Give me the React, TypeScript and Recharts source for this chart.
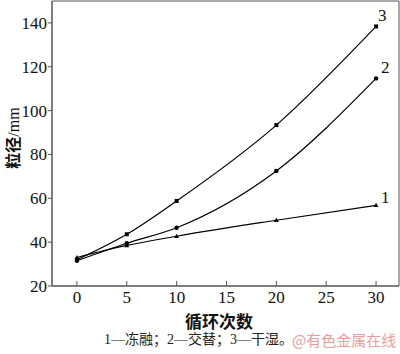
import { LineChart, Line, XAxis, YAxis, ReferenceArea, LabelList } from 'recharts';

// 循环次数
const cycles = [0, 5, 10, 20, 30];
// 1—冻融
const freezeThaw = [33, 38.5, 42.7, 50, 56.8];
// 2—交替
const alternate = [31.5, 39.5, 46.6, 72.5, 114.7];
// 3—干湿
const wetDry = [32, 43.6, 58.8, 93.4, 138.4];

const xTicks = [0, 5, 10, 15, 20, 25, 30];
const yTicks = [20, 40, 60, 80, 100, 120, 140];
const xDomain: [number, number] = [-2.5, 32.3];
const yDomain: [number, number] = [20, 150];

const data = cycles.map((c, i) => ({
  cycle: c,
  s1: freezeThaw[i],
  s2: alternate[i],
  s3: wetDry[i],
}));

const serif = '"Liberation Serif", "Times New Roman", serif';
const cjk = '"Noto Sans CJK SC", sans-serif';
const axisColor = '#555';

const XTick = (props: any) => {
  const { x, y, payload } = props;
  return (
    <g>
      <line x1={x} x2={x} y1={y} y2={y - 5} stroke={axisColor} />
      <text x={x} y={y + 17} textAnchor="middle" fill="#111" style={{ fontSize: 17, fontFamily: serif }}>
        {payload.value}
      </text>
    </g>
  );
};

const YTick = (props: any) => {
  const { x, y, payload } = props;
  return (
    <text x={x} y={y + 6} textAnchor="end" fill="#111" style={{ fontSize: 17, fontFamily: serif }}>
      {payload.value}
    </text>
  );
};

const makeDot = (kind: string) => (props: any) => {
  const { cx, cy, index } = props;
  if (kind === 'square') {
    return <rect key={index} x={cx - 2} y={cy - 2} width={4} height={4} fill="#000" />;
  }
  if (kind === 'circle') {
    return <circle key={index} cx={cx} cy={cy} r={2.2} fill="#000" />;
  }
  return (
    <path key={index} d={`M${cx},${cy - 2.6}L${cx + 2.4},${cy + 1.8}L${cx - 2.4},${cy + 1.8}Z`} fill="#000" />
  );
};

const endLabel = (text: string, dx: number, dy: number) => (props: any) => {
  const { x, y, index } = props;
  if (index !== cycles.length - 1) return null;
  return (
    <text x={x + dx} y={y + dy} fill="#111" style={{ fontSize: 17, fontFamily: serif }}>
      {text}
    </text>
  );
};

export default function App() {
  return (
    <div style={{ position: 'absolute', left: 0, top: 0, width: 400, height: 354, background: '#fff', fontFamily: serif }}>
      <LineChart width={400} height={354} data={data} margin={{ top: 1, right: 1, left: 0, bottom: 0 }}>
        <XAxis
          dataKey="cycle"
          type="number"
          domain={xDomain}
          ticks={xTicks}
          allowDataOverflow
          height={68}
          tickSize={0}
          tickMargin={0}
          tickLine={false}
          stroke={axisColor}
          tick={<XTick />}
          label={() => (
            <text x={219} y={328} textAnchor="middle" fill="#111" style={{ fontSize: 17, fontWeight: 'bold', fontFamily: cjk }}>
              循环次数
            </text>
          )}
        />
        <YAxis
          type="number"
          domain={yDomain}
          ticks={yTicks}
          allowDataOverflow
          width={52}
          tickSize={4}
          tickMargin={1}
          stroke={axisColor}
          tick={<YTick />}
          label={() => (
            <text transform="translate(19,138) rotate(-90)" textAnchor="middle" fill="#111" style={{ fontSize: 16 }}>
              <tspan style={{ fontFamily: cjk, fontWeight: 'bold' }}>粒径</tspan>
              <tspan style={{ fontFamily: serif }}>/mm</tspan>
            </text>
          )}
        />
        <ReferenceArea x1={xDomain[0]} x2={xDomain[1]} y1={yDomain[0]} y2={yDomain[1]} fill="none" stroke={axisColor} />
        <Line type="monotone" dataKey="s1" stroke="#000" strokeWidth={1.2} dot={makeDot('triangle')} isAnimationActive={false}>
          <LabelList dataKey="s1" content={endLabel('1', 5, -2)} />
        </Line>
        <Line type="monotone" dataKey="s2" stroke="#000" strokeWidth={1.2} dot={makeDot('circle')} isAnimationActive={false}>
          <LabelList dataKey="s2" content={endLabel('2', 5, -5)} />
        </Line>
        <Line type="monotone" dataKey="s3" stroke="#000" strokeWidth={1.2} dot={makeDot('square')} isAnimationActive={false}>
          <LabelList dataKey="s3" content={endLabel('3', 2, -5)} />
        </Line>
      </LineChart>
      <div
        style={{
          position: 'absolute',
          left: 104,
          top: 333,
          fontSize: 14,
          lineHeight: '14px',
          fontFamily: `"Liberation Serif", ${cjk}`,
          color: '#222',
          whiteSpace: 'nowrap',
        }}
      >
        1—冻融；2—交替；3—干湿。
      </div>
      <div
        style={{
          position: 'absolute',
          left: 292,
          top: 332,
          fontSize: 15,
          lineHeight: '16px',
          fontFamily: cjk,
          color: '#ec9c9c',
          whiteSpace: 'nowrap',
        }}
      >
        @有色金属在线
      </div>
    </div>
  );
}
